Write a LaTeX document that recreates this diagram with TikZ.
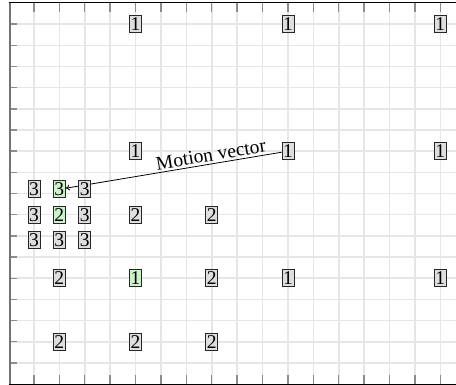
\documentclass[tikz,border=0pt]{standalone}
\usepackage{fontspec}
\setmainfont{Liberation Serif}
\usetikzlibrary{arrows.meta}
\pgfdeclarelayer{gridlayer}
\pgfdeclarelayer{arrowlayer}
\pgfsetlayers{gridlayer,arrowlayer,main}
\definecolor{gridgray}{HTML}{E6E6E6}
\definecolor{tickgray}{HTML}{8C8C8C}
\definecolor{boxgray}{HTML}{DEDEDE}
\definecolor{boxgreen}{HTML}{CCF2CC}
\tikzset{
  blk/.style={draw=black!85, line width=0.8pt, fill=boxgray, inner sep=1pt,
    minimum width=12pt, minimum height=17pt, font=\fontsize{19.5}{21}\selectfont},
  blkg/.style={blk, fill=boxgreen},
  gridln/.style={draw=gridgray, line width=1.6pt},
  tickln/.style={draw=tickgray, line width=1.4pt},
  mv/.style={draw=black, line width=0.8pt, -{To[length=4pt,width=6pt]}}
}
\begin{document}
\begin{tikzpicture}[x=1pt,y=-1pt]
\useasboundingbox (0,0) rectangle (456,385);
\begin{scope}[xshift=8.5pt, yshift=-3pt, x=25.4pt, y=-21.17pt]
  % grid
  \begin{pgfonlayer}{gridlayer}
    \clip (-0.4,-0.2) rectangle (17.62,18.2);
    \foreach \k in {1,...,18} \draw[gridln] (\k,0) -- (\k,18);
    \foreach \j in {1,...,17} \draw[gridln] (0,\j) -- (18,\j);
    \foreach \k in {1,...,17} {
      \draw[tickln] (\k,0) -- ++(0,0.42);
      \draw[tickln] (\k,18) -- ++(0,-0.42);
    }
    \foreach \j in {1,...,17} \draw[tickln] (0,\j) -- ++(0.35,0);
    \draw[black, line width=1pt] (0,0) -- (18,0);
    \draw[black, line width=1pt] (0,18) -- (18,18);
    \draw[draw=black!55, line width=2pt] (0.04,0) -- (0.04,18);
  \end{pgfonlayer}
  % blocks
  \node[blk] (a1) at (5,1) {1};
  \node[blk] (a2) at (11,1) {1};
  \node[blk] (a3) at (17,1) {1};
  \node[blk] (b1) at (5,7) {1};
  \node[blk] (b2) at (11,7) {1};
  \node[blk] (b3) at (17,7) {1};
  \node[blk] (c1) at (1,8.8) {3};
  \node[blkg] (c2) at (2,8.8) {3};
  \node[blk] (c3) at (3,8.8) {3};
  \node[blk] (d1) at (1,10) {3};
  \node[blkg] (d2) at (2,10) {2};
  \node[blk] (d3) at (3,10) {3};
  \node[blk] (d4) at (5,10) {2};
  \node[blk] (d5) at (8,10) {2};
  \node[blk] (e1) at (1,11.2) {3};
  \node[blk] (e2) at (2,11.2) {3};
  \node[blk] (e3) at (3,11.2) {3};
  \node[blk] (f1) at (2,13) {2};
  \node[blkg] (f2) at (5,13) {1};
  \node[blk] (f3) at (8,13) {2};
  \node[blk] (f4) at (11,13) {1};
  \node[blk] (f5) at (17,13) {1};
  \node[blk] (g1) at (2,16) {2};
  \node[blk] (g2) at (5,16) {2};
  \node[blk] (g3) at (8,16) {2};
  \begin{pgfonlayer}{arrowlayer}
    \draw[mv] (b2) -- node[pos=0.32, above=-1pt, sloped, font=\fontsize{19.5}{21}\selectfont] (mvlabel) {Motion vector} (c2);
  \end{pgfonlayer}
\end{scope}
\end{tikzpicture}
\end{document}
